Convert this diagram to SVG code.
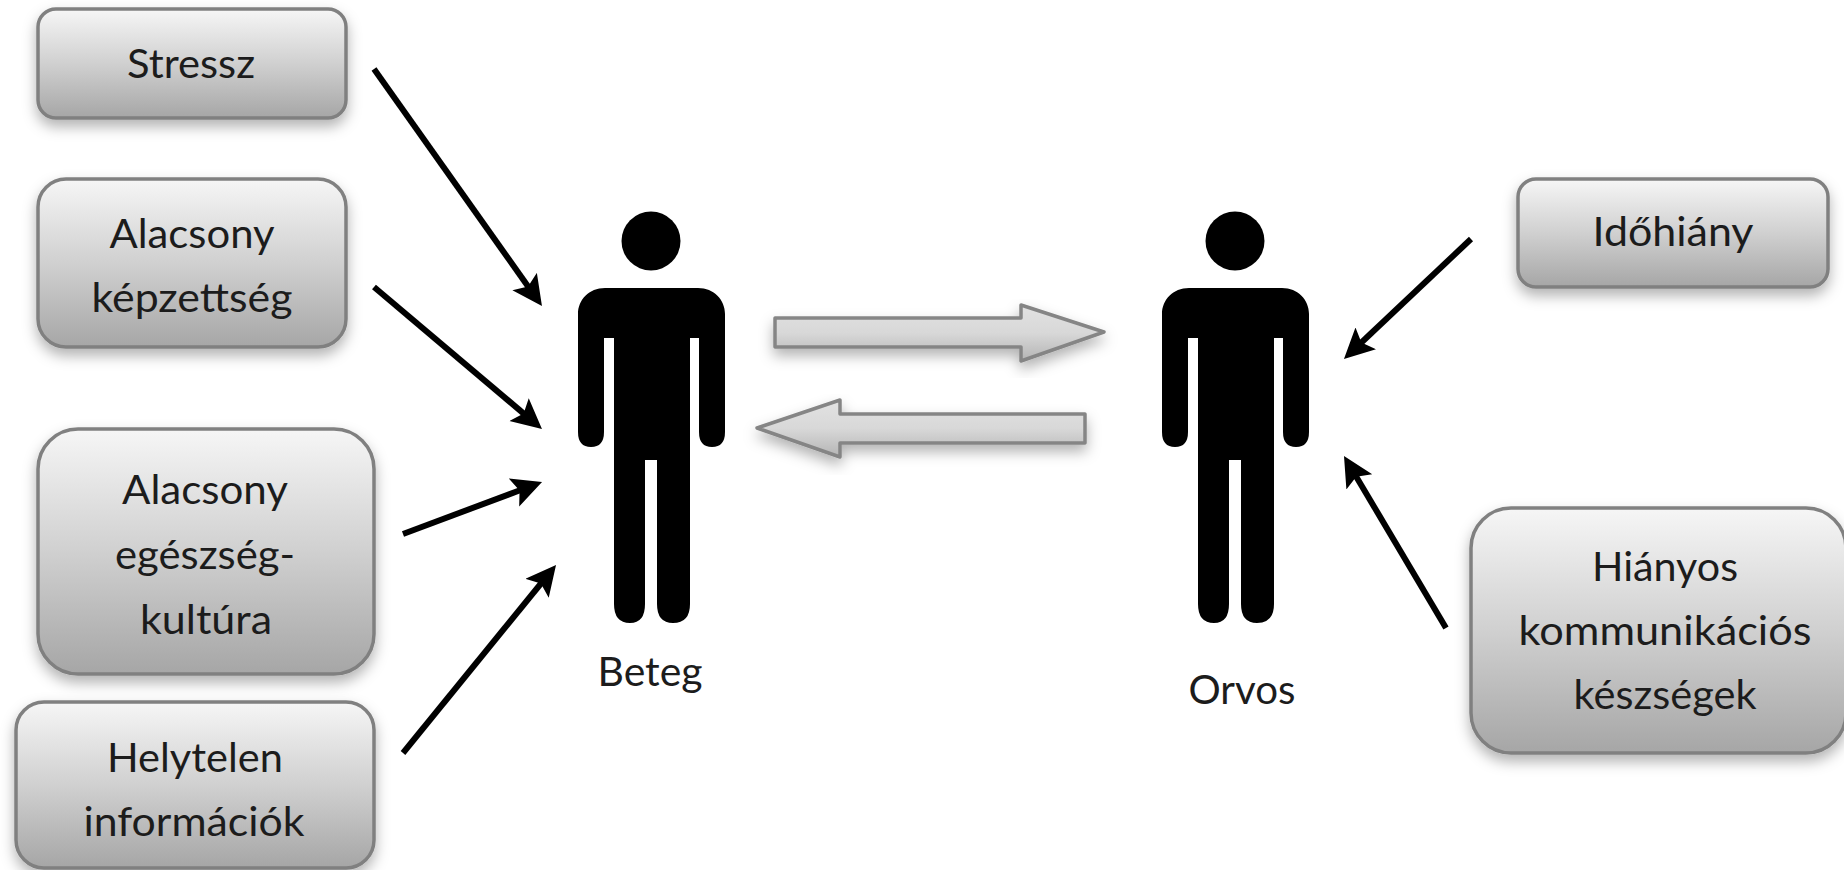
<svg xmlns="http://www.w3.org/2000/svg" width="1844" height="870" viewBox="0 0 1844 870">
<defs>
<linearGradient id="g" x1="0" y1="0" x2="0" y2="1"><stop offset="0" stop-color="#f6f6f6"/><stop offset="0.5" stop-color="#d0d0d0"/><stop offset="1" stop-color="#a6a6a6"/></linearGradient>
<linearGradient id="ga" x1="0" y1="0" x2="0" y2="1"><stop offset="0" stop-color="#e2e2e2"/><stop offset="0.5" stop-color="#d8d8d8"/><stop offset="1" stop-color="#b4b4b4"/></linearGradient>
<filter id="s" x="-10%" y="-10%" width="120%" height="140%"><feDropShadow dx="0" dy="7" stdDeviation="7" flood-color="#000" flood-opacity="0.3"/></filter>
<marker id="h" markerUnits="userSpaceOnUse" markerWidth="34" markerHeight="32" refX="10" refY="15" orient="auto"><path d="M0 0L30 15L0 30L6 15Z" fill="#000"/></marker>
<g id="person">
<ellipse cx="651" cy="241" rx="29.5" ry="29.5"/>
<path d="M605 288H698C714 288 725 300 725 314V432Q725 447 712 447Q699 447 699 432V338H690V604Q690 623 673 623Q657 623 657 604V460H645V604Q645 623 630 623Q614 623 614 604V338H604V432Q604 447 591 447Q578 447 578 432V314C578 300 589 288 605 288Z"/>
</g>
</defs>
<style>
.b{fill:url(#g);stroke:#808080;stroke-width:3.5;filter:url(#s)}
.a{fill:url(#ga);stroke:#858585;stroke-width:3.5;stroke-linejoin:round;filter:url(#s)}
.t{font-family:Lato,"Liberation Sans",sans-serif;font-size:40px;fill:#1c1c1c;text-anchor:middle}
.c{stroke:#000;stroke-width:6;fill:none;marker-end:url(#h)}
</style>
<rect width="1844" height="870" fill="#fff"/>
<g id="connectors">
<line class="c" x1="374" y1="69" x2="530.4" y2="289.7"/>
<line class="c" x1="374" y1="287" x2="526.7" y2="416.1"/>
<line class="c" x1="403" y1="534" x2="523.3" y2="489"/>
<line class="c" x1="403" y1="753" x2="543.4" y2="580.5"/>
<line class="c" x1="1471" y1="239" x2="1358.5" y2="345.3"/>
<line class="c" x1="1446" y1="628" x2="1354.2" y2="473.2"/>
<path class="a" d="M775 318H1021V305L1104 332L1021 361V347H775Z"/>
<path class="a" d="M1085 414H840V400L757 428L840 457V443H1085Z"/>
</g>
<g id="stressz"><rect class="b" x="38" y="9" width="308" height="109" rx="18"/><text class="t" x="191" y="78" textLength="128" lengthAdjust="spacingAndGlyphs">Stressz</text></g>
<g id="kepzettseg"><rect class="b" x="38" y="179" width="308" height="168" rx="28"/><text class="t" x="192" y="248" textLength="165" lengthAdjust="spacingAndGlyphs">Alacsony</text><text class="t" x="192" y="312" textLength="201" lengthAdjust="spacingAndGlyphs">képzettség</text></g>
<g id="kultura"><rect class="b" x="38" y="429" width="336" height="245" rx="40"/><text class="t" x="205" y="504" textLength="166" lengthAdjust="spacingAndGlyphs">Alacsony</text><text class="t" x="205" y="569" textLength="180" lengthAdjust="spacingAndGlyphs">egészség-</text><text class="t" x="206" y="634" textLength="132" lengthAdjust="spacingAndGlyphs">kultúra</text></g>
<g id="informaciok"><rect class="b" x="16" y="702" width="358" height="166" rx="28"/><text class="t" x="195" y="772" textLength="176" lengthAdjust="spacingAndGlyphs">Helytelen</text><text class="t" x="194" y="836" textLength="221" lengthAdjust="spacingAndGlyphs">információk</text></g>
<g id="idohiany"><rect class="b" x="1518" y="179" width="310" height="108" rx="18"/><text class="t" x="1673" y="246" textLength="161" lengthAdjust="spacingAndGlyphs">Időhiány</text></g>
<g id="hianyos"><rect class="b" x="1471" y="508" width="375" height="245" rx="40"/><text class="t" x="1665" y="581" textLength="146" lengthAdjust="spacingAndGlyphs">Hiányos</text><text class="t" x="1665" y="645" textLength="293" lengthAdjust="spacingAndGlyphs">kommunikációs</text><text class="t" x="1665" y="709" textLength="183" lengthAdjust="spacingAndGlyphs">készségek</text></g>
<g id="beteg"><use href="#person"/><text class="t" x="650" y="686" textLength="105" lengthAdjust="spacingAndGlyphs">Beteg</text></g>
<g id="orvos"><use href="#person" x="584"/><text class="t" x="1242" y="704" textLength="107" lengthAdjust="spacingAndGlyphs">Orvos</text></g>
</svg>
